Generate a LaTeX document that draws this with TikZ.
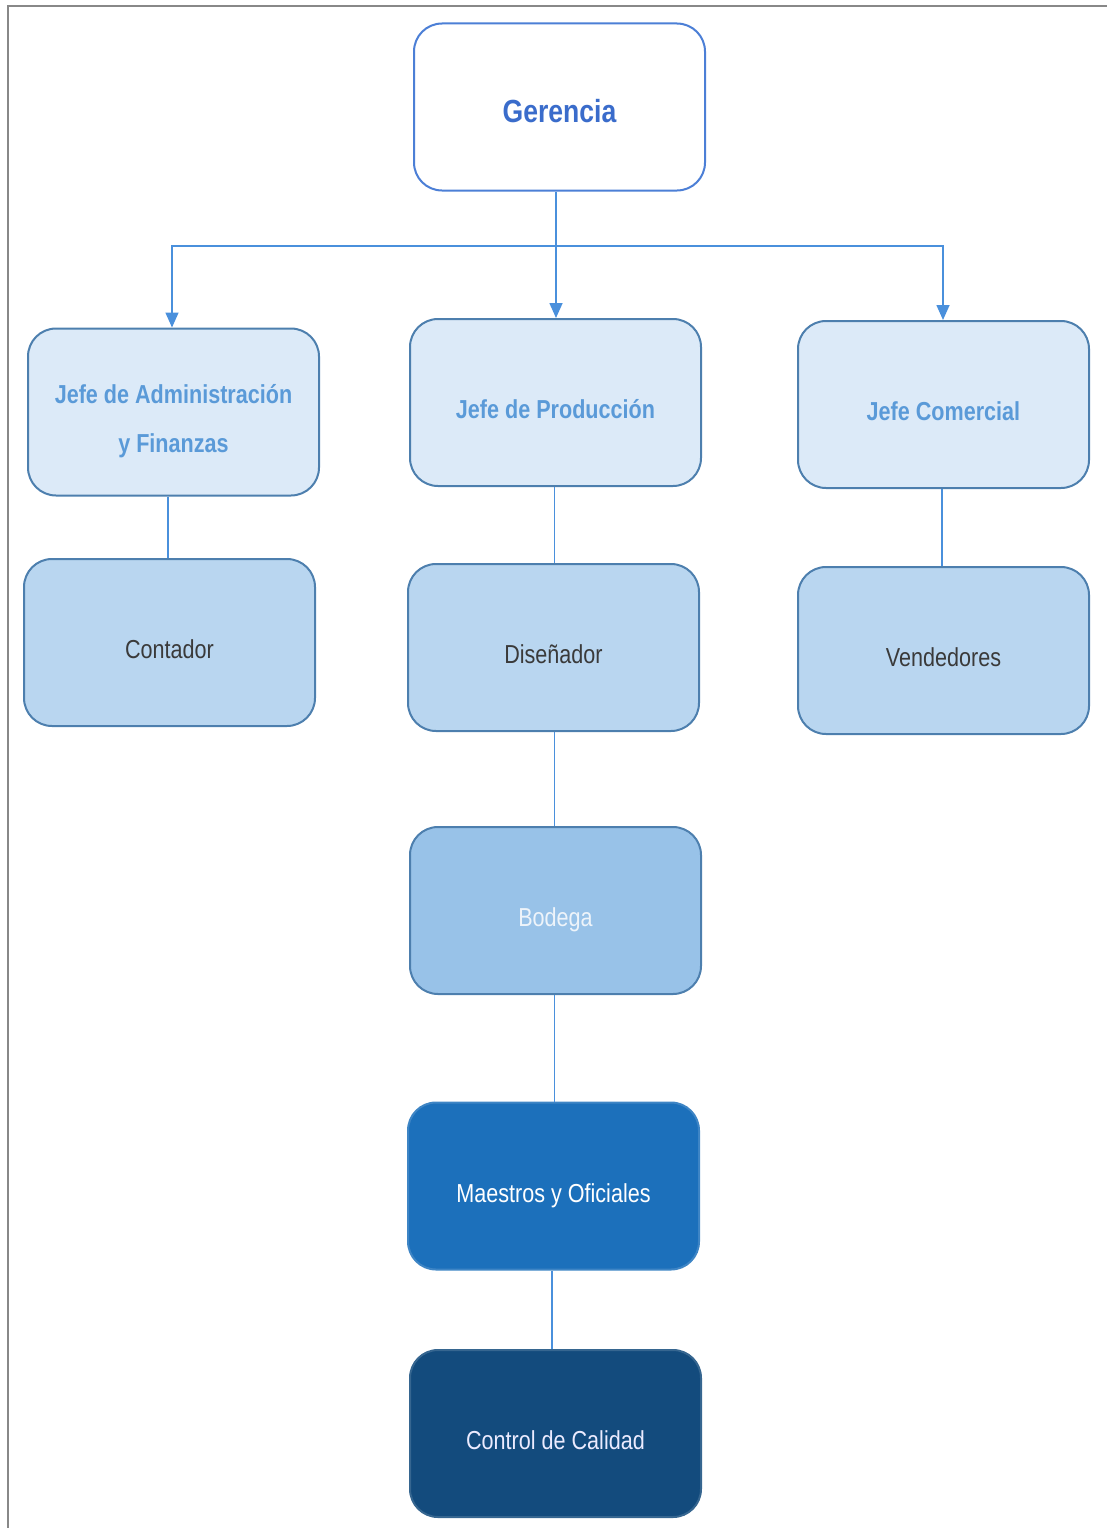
\documentclass[tikz,border=0pt]{standalone}
\usepackage{fontspec}
\setmainfont{Liberation Sans}[FakeStretch=0.83]
\usetikzlibrary{arrows.meta}
\definecolor{gerline}{HTML}{4C7FD6}
\definecolor{gertext}{HTML}{3A6CCB}
\definecolor{lightfill}{HTML}{DCEAF8}
\definecolor{boxline}{HTML}{4D7FAE}
\definecolor{jefetext}{HTML}{5A9AD8}
\definecolor{midfill}{HTML}{B9D6F0}
\definecolor{midtext}{HTML}{3A3A3A}
\definecolor{bodfill}{HTML}{98C2E8}
\definecolor{bodtext}{HTML}{EEF4FA}
\definecolor{maefill}{HTML}{1C70BB}
\definecolor{ctrlfill}{HTML}{134B7D}
\definecolor{linkcol}{HTML}{4A90DC}
\definecolor{framecol}{HTML}{888888}
\tikzset{
  % fixed text box: the baseline sits half the text height below the centre
  orgbox/.style={draw, line width=2pt, rounded corners=28pt, minimum width=291pt,
    minimum height=167pt, inner sep=0pt, text height=32pt, text depth=0pt},
  topbox/.style={orgbox, draw=gerline, fill=white, text=gertext,
    font=\fontsize{32}{40}\selectfont\bfseries, text height=30pt},
  jefebox/.style={orgbox, draw=boxline, fill=lightfill, text=jefetext,
    font=\fontsize{26}{49}\selectfont\bfseries},
  staffbox/.style={orgbox, draw=boxline, fill=midfill, text=midtext,
    font=\fontsize{26}{32}\selectfont},
  storebox/.style={orgbox, draw=boxline, fill=bodfill, text=bodtext,
    font=\fontsize{26}{32}\selectfont},
  workbox/.style={orgbox, draw=maefill!85!white, fill=maefill, text=white,
    font=\fontsize{26}{32}\selectfont},
  qualbox/.style={orgbox, draw=ctrlfill!85!white, fill=ctrlfill, text=white!92!blue,
    font=\fontsize{26}{32}\selectfont},
  link/.style={draw=linkcol, line width=1.6pt},
  arrowlink/.style={link, -{Triangle[width=13pt,length=15pt]}}
}
\begin{document}
\begin{tikzpicture}[x=1pt,y=-1pt]
\useasboundingbox (0,0) rectangle (1107,1528);
% page frame (top and left edges)
\draw[framecol, line width=2pt] (8,1528) -- (8,6) -- (1107,6);

% boxes
\node[topbox]   (ger)  at (559.5,107)   {Gerencia};
\node[jefebox, text height=0pt, text depth=18pt] (adm) at (173.5,412)
  {\begin{tabular}[t]{@{}c@{}}Jefe de Administración\\y Finanzas\end{tabular}};
\node[jefebox]  (prod) at (555.5,402.5) {Jefe de Producción};
\node[jefebox]  (com)  at (943.5,404.5) {Jefe Comercial};
\node[staffbox] (cont) at (169.5,642.5) {Contador};
\node[staffbox] (dis)  at (553.5,647.5) {Diseñador};
\node[staffbox] (ven)  at (943.5,650.5) {Vendedores};
\node[storebox] (bod)  at (555.5,910.5) {Bodega};
\node[workbox]  (mae)  at (553.5,1186)  {Maestros y Oficiales};
\node[qualbox]  (ctl)  at (555.5,1433.5){Control de Calidad};

% distribution bus below Gerencia
\coordinate (bus) at (556,246);
\draw[link] (bus |- ger.south) -- (bus);
\draw[link] (172,246) -- (943,246);
\draw[arrowlink] (bus) -- (bus |- prod.north);
\draw[arrowlink] (bus) -| ([xshift=-1.5pt]adm.north);
\draw[arrowlink] (bus) -| ([xshift=-0.5pt]com.north);

% reporting lines
\draw[link] ([xshift=-1.5pt]cont.north |- adm.south) -- ([xshift=-1.5pt]cont.north);
\draw[link] ([xshift=1pt]dis.north |- prod.south) -- ([xshift=1pt]dis.north);
\draw[link] ([xshift=-1.5pt]ven.north |- com.south) -- ([xshift=-1.5pt]ven.north);
\draw[link] ([xshift=1pt]dis.south) -- ([xshift=1pt]dis.south |- bod.north);
\draw[link] ([xshift=-1pt]bod.south) -- ([xshift=-1pt]bod.south |- mae.north);
\draw[link] ([xshift=-1.5pt]mae.south) -- ([xshift=-1.5pt]mae.south |- ctl.north);
\end{tikzpicture}
\end{document}
